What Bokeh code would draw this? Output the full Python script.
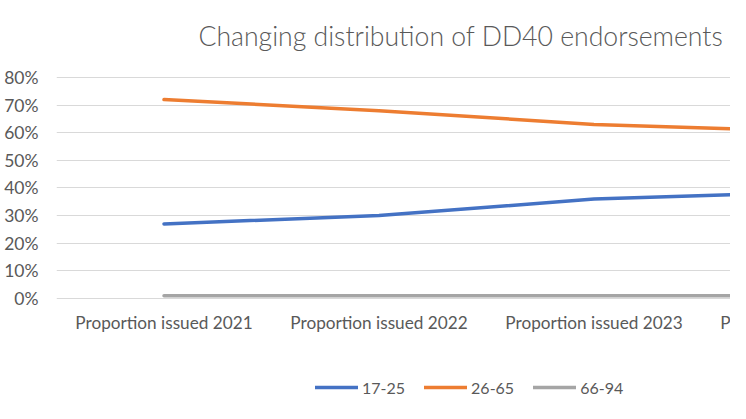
from bokeh.plotting import figure
from bokeh.models import (FixedTicker, NumeralTickFormatter, Range1d, Legend, LegendItem, Label)
from bokeh.embed import file_html
from bokeh.resources import INLINE

title = "Changing distribution of DD40 endorsements"
categories = ["Proportion issued 2021", "Proportion issued 2022",
              "Proportion issued 2023", "Proportion issued 2024"]
s_17_25 = [0.27, 0.30, 0.36, 0.385]
s_26_65 = [0.72, 0.68, 0.63, 0.605]
s_66_94 = [0.01, 0.01, 0.01, 0.01]
y_ticks = [0.0, 0.1, 0.2, 0.3, 0.4, 0.5, 0.6, 0.7, 0.8]

xs = [i + 0.5 for i in range(len(categories))]

FONT = "Lato"
TXT = "#595959"

# frame spans the full canvas height: room above 80% holds the title,
# room below 0% holds the category labels and the legend
p = figure(width=730, height=403, output_backend="svg", toolbar_location=None,
           x_range=Range1d(0, 674 / 215.0), y_range=Range1d(-0.3801, 1.0787),
           min_border_left=56, min_border_right=0, min_border_top=0,
           min_border_bottom=0, outline_line_color=None)

p.add_layout(Label(x=142, y=368, x_units="screen", y_units="screen",
                   text=title, text_align="left", text_baseline="middle",
                   text_font="'Lato Light', Lato", text_font_size="26.6px",
                   text_color=TXT))

# axes
p.xaxis.fixed_location = 0
p.xaxis.ticker = FixedTicker(ticks=xs)
p.xaxis.major_label_overrides = {x: c for x, c in zip(xs, categories)}
p.yaxis.ticker = FixedTicker(ticks=y_ticks)
p.yaxis.formatter = NumeralTickFormatter(format="0%")
for ax in (p.xaxis[0], p.yaxis[0]):
    ax.axis_line_color = None
    ax.major_tick_line_color = None
    ax.minor_tick_line_color = None
    ax.major_tick_out = 0
    ax.major_tick_in = 0
    ax.minor_tick_out = 0
    ax.major_label_text_font = FONT
    ax.major_label_text_color = TXT
p.xaxis.major_label_text_font_size = "17.2px"
p.yaxis.major_label_text_font_size = "17.5px"
p.yaxis.major_label_standoff = 18
p.xaxis.major_label_standoff = 14

p.xgrid.grid_line_color = None
p.ygrid.ticker = FixedTicker(ticks=y_ticks)
p.ygrid.grid_line_color = "#d9d9d9"
p.ygrid.grid_line_width = 1

r1 = p.line(xs, s_17_25, line_color="#4472C4", line_width=3.5, line_cap="round")
r2 = p.line(xs, s_26_65, line_color="#ED7D31", line_width=3.5, line_cap="round")
r3 = p.line(xs, s_66_94, line_color="#A5A5A5", line_width=3.5, line_cap="round")

# last category label (only partly inside the visible area)
p.add_layout(Label(x=xs[3], y=0, y_offset=-14, x_units="data", y_units="data",
                   text=categories[3], text_align="center", text_baseline="top",
                   text_font=FONT, text_font_size="17.2px", text_color=TXT))

legend = Legend(items=[LegendItem(label="17-25", renderers=[r1]),
                       LegendItem(label="26-65", renderers=[r2]),
                       LegendItem(label="66-94", renderers=[r3])],
                orientation="horizontal", location=(259, 6),
                glyph_width=43, glyph_height=20, label_standoff=4, spacing=19,
                padding=0, margin=0, border_line_color=None,
                background_fill_alpha=0,
                label_text_font=FONT, label_text_font_size="16px",
                label_text_color=TXT)
p.add_layout(legend, "center")

open("out.html", "w").write(file_html(p, INLINE))
